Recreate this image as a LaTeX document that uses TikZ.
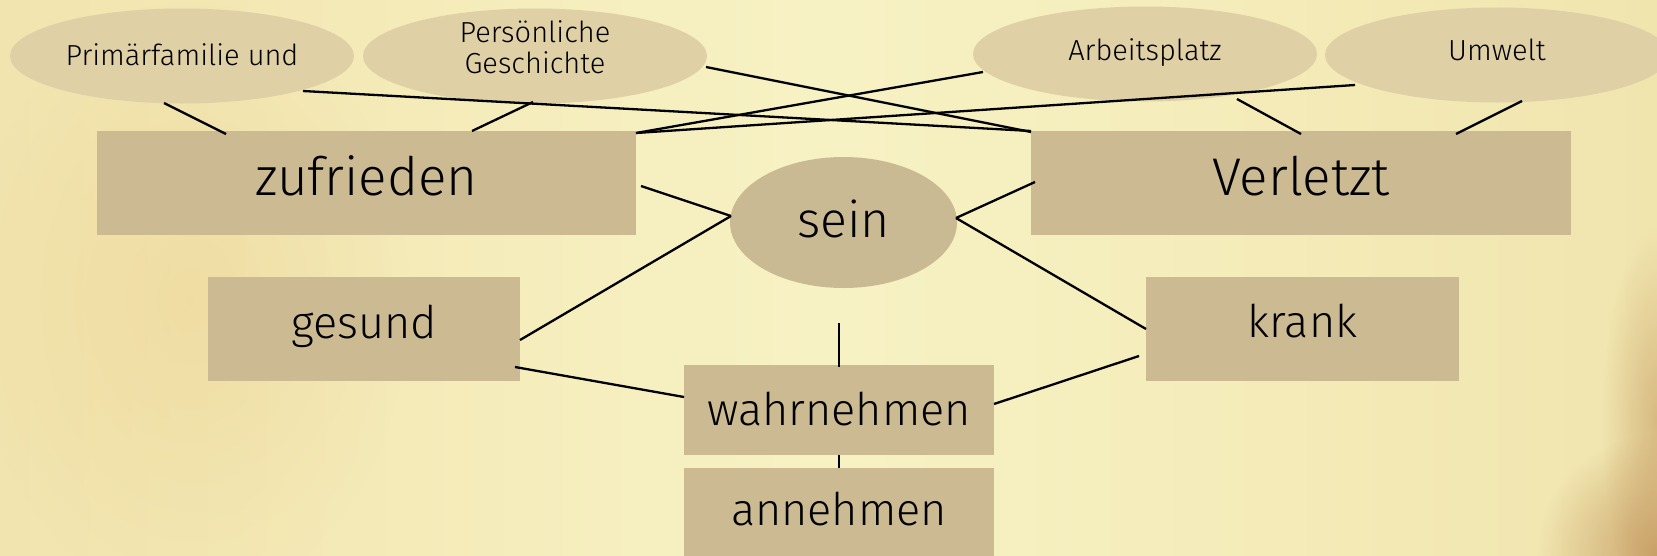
\documentclass[tikz,border=0pt]{standalone}
\usepackage{fontspec}
\setmainfont{Fira Sans Light}
\usetikzlibrary{calc,fadings,shapes.geometric}
\definecolor{bgmid}{RGB}{247,242,196}
\definecolor{bgleft}{RGB}{242,228,174}
\definecolor{bgright}{RGB}{241,229,174}
\definecolor{warm}{RGB}{232,202,134}
\definecolor{cornerbrown}{RGB}{190,142,84}
\definecolor{boxc}{RGB}{203,186,146}
\definecolor{elc}{RGB}{224,208,166}
\definecolor{seinc}{RGB}{202,186,148}
\tikzfading[name=softblob, inner color=transparent!0, outer color=transparent!100]
\tikzset{
  tag/.style={rectangle, fill=boxc, inner sep=0pt, outer sep=0pt},
  topel/.style={ellipse, fill=elc, inner sep=0pt, outer sep=0pt, minimum width=344pt, minimum height=95pt},
  bigtxt/.style={font=\fontsize{53}{60}\selectfont},
  midtxt/.style={font=\fontsize{45}{52}\selectfont},
  smalltxt/.style={font=\fontsize{29}{30}\selectfont},
  link/.style={line width=2.3pt, black},
}
\begin{document}
\begin{tikzpicture}[x=1pt,y=-1pt]
\useasboundingbox (0,0) rectangle (1657,555);
\clip (0,0) rectangle (1657,555);
% background
\shade[left color=bgleft, right color=bgright, middle color=bgmid] (0,0) rectangle (1657,555);
\fill[warm, opacity=.35, path fading=softblob] (190,300) ellipse (220pt and 300pt);
\fill[cornerbrown, opacity=.75, path fading=softblob] (1657,555) circle (120pt);
\fill[cornerbrown, opacity=.5, path fading=softblob] (1657,420) ellipse (55pt and 190pt);

% top ellipses
\node[topel, smalltxt, text height=18pt, text depth=0pt] (prim) at (182,56) {Primärfamilie und};
\node[topel, smalltxt, text height=34pt, text depth=0pt] (pers) at (535,56)
  {\begin{tabular}[b]{@{}c@{}}Persönliche\\Geschichte\end{tabular}};
\node[topel, smalltxt, text height=12pt, text depth=0pt] (arb) at (1145,54) {Arbeitsplatz};
\node[topel, smalltxt, text height=10pt, text depth=0pt] (umw) at (1497,55) {Umwelt};

% big boxes
\node[tag, bigtxt, minimum width=539pt, minimum height=104pt, text height=24pt, text depth=0pt] (zuf) at (366.5,183) {zufrieden};
\node[tag, bigtxt, minimum width=540pt, minimum height=104pt, text height=24pt, text depth=0pt] (verl) at (1301,183) {Verletzt};

% centre ellipse
\node[ellipse, fill=seinc, inner sep=0pt, minimum width=227pt, minimum height=131pt, font=\fontsize{50}{58}\selectfont, text height=29pt, text depth=0pt] (sein) at (843.5,222.5) {sein};

% medium boxes
\node[tag, midtxt, minimum width=312pt, minimum height=104pt, text height=18pt, text depth=0pt] (ges) at (364,329) {gesund};
\node[tag, midtxt, minimum width=313pt, minimum height=104pt, text height=16pt, text depth=0pt] (krank) at (1302.5,329) {krank};
\node[tag, midtxt, minimum width=310pt, minimum height=90pt, text height=30pt, text depth=0pt] (wahr) at (839,410) {wahrnehmen};
\node[tag, midtxt, minimum width=310pt, minimum height=90pt, text height=24pt, text depth=0pt] (anne) at (839,513) {annehmen};

% connectors
\draw[link] ($(prim)+(-18,47)$) -- ($(zuf)+(-140.5,-49)$);
\draw[link] ($(pers)+(-2,46)$) -- ($(zuf)+(105.5,-52)$);
\draw[link] ($(prim)+(121,35)$) -- ($(verl)+(-270,-52)$);
\draw[link] ($(pers)+(171,11)$) -- ($(verl)+(-270,-51)$);
\draw[link] ($(arb)+(-162,18)$) -- ($(zuf)+(269.5,-50)$);
\draw[link] ($(umw)+(-142,30)$) -- ($(zuf)+(269.5,-50)$);
\draw[link] ($(arb)+(92,45)$) -- ($(verl)+(0,-49)$);
\draw[link] ($(umw)+(25,46)$) -- ($(verl)+(155,-49)$);
\draw[link] ($(zuf)+(274.5,3)$) -- ($(sein)+(-112.5,-6.5)$);
\draw[link] ($(sein)+(-112.5,-6.5)$) -- ($(ges)+(156,11)$);
\draw[link] ($(verl)+(-266,-1)$) -- ($(sein)+(112.5,-4.5)$);
\draw[link] ($(sein)+(112.5,-4.5)$) -- ($(krank)+(-156.5,0)$);
\draw[link] ($(ges)+(151,38)$) -- ($(wahr)+(-155,-13)$);
\draw[link] ($(krank)+(-163.5,27)$) -- ($(wahr)+(155,-6)$);
\draw[link] ($(sein)+(-4.5,100.5)$) -- ($(wahr)+(0,-43)$);
\draw[link] ($(wahr)+(0,45)$) -- ($(anne)+(0,-45)$);
\end{tikzpicture}
\end{document}
